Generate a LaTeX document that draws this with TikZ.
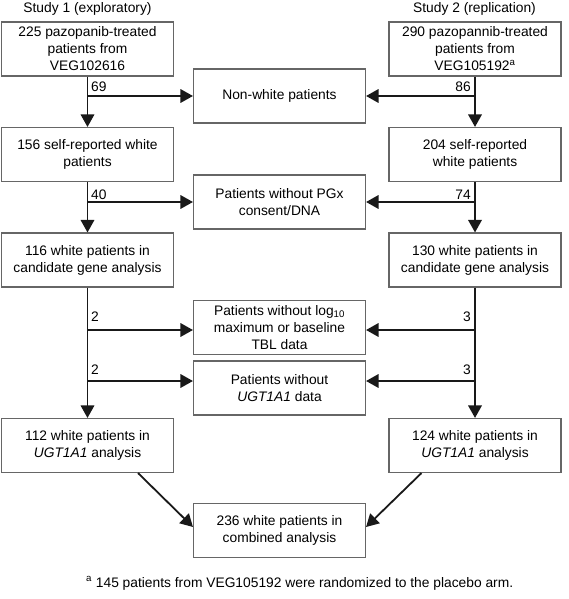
\documentclass[tikz,border=0pt]{standalone}
\usepackage{fontspec}
\setmainfont{Liberation Sans}
\usetikzlibrary{arrows.meta,calc}

\begin{document}
\begin{tikzpicture}[x=1pt,y=-1pt,
    txt/.style={font=\fontsize{13.8}{17}\selectfont,inner sep=0pt},
    box/.style={txt,draw=black!60,line width=1.1pt,align=center,minimum width=172pt,minimum height=54pt},
    flow/.style={line width=1.8pt,draw=black!90,-{Triangle[length=12.5pt,width=13.5pt]}}]
    \useasboundingbox (0,0) rectangle (568,599);
    % study 1 column
    \node[txt,anchor=base] (t1) at (87.5,12.5) {Study 1 (exploratory)};
    \node[box] (s1a) at (87.5,49) {225 pazopanib-treated\\patients from\\VEG102616};
    \node[box] (s1b) at (87.5,154.5) {156 self-reported white\\patients};
    \node[box] (s1c) at (87.5,260) {116 white patients in\\candidate gene analysis};
    \node[box] (s1d) at (87.5,445.5) {112 white patients in\\\textit{UGT1A1} analysis};
    % study 2 column
    \node[txt,anchor=base] (t2) at (474.5,12.5) {Study 2 (replication)};
    \node[box] (s2a) at (475,49) {290 pazopannib-treated\\patients from\\VEG105192\textsuperscript{a}};
    \node[box] (s2b) at (475,154.5) {204 self-reported\\white patients};
    \node[box] (s2c) at (475,260) {130 white patients in\\candidate gene analysis};
    \node[box] (s2d) at (475,445.5) {124 white patients in\\\textit{UGT1A1} analysis};
    % excluded patients
    \node[box] (c1) at (279.5,96) {Non-white patients};
    \node[box] (c2) at (279.5,202) {Patients without PGx\\consent/DNA};
    \node[box] (c3) at (279.5,327.5) {Patients without log\textsubscript{10}\\maximum or baseline\\TBL data};
    \node[box] (c4) at (279.5,388) {Patients without\\\textit{UGT1A1} data};
    \node[box] (c5) at (279.5,530.5) {236 white patients in\\combined analysis};
    % branch points
    \coordinate (b1) at (s1a.south |- c1.west);
    \coordinate (b2) at (s1b.south |- c2.west);
    \coordinate (b3) at ($(s1c.south |- c3.west)+(0,2.5)$);
    \coordinate (b4) at ($(s1c.south |- c4.west)+(0,-7)$);
    \coordinate (r1) at (s2a.south |- c1.east);
    \coordinate (r2) at (s2b.south |- c2.east);
    \coordinate (r3) at ($(s2c.south |- c3.east)+(0,2.5)$);
    \coordinate (r4) at ($(s2c.south |- c4.east)+(0,-7)$);
    \draw[flow] (s1a.south) -- (s1b.north);
    \draw[flow] (s1b.south) -- (s1c.north);
    \draw[flow] (s1c.south) -- (s1d.north);
    \draw[flow] (s2a.south) -- (s2b.north);
    \draw[flow] (s2b.south) -- (s2c.north);
    \draw[flow] (s2c.south) -- (s2d.north);
    \draw[flow] (b1) -- (c1.west);
    \draw[flow] (b2) -- (c2.west);
    \draw[flow] (b3) -- (b3 -| c3.west);
    \draw[flow] (b4) -- (b4 -| c4.west);
    \draw[flow] (r1) -- (c1.east);
    \draw[flow] (r2) -- (c2.east);
    \draw[flow] (r3) -- (r3 -| c3.east);
    \draw[flow] (r4) -- (r4 -| c4.east);
    \draw[flow] ([xshift=-36pt]s1d.south east) -- ([yshift=3.5pt]c5.west);
    \draw[flow] ([xshift=33pt]s2d.south west) -- ([yshift=3.5pt]c5.east);
    % counts
    \node[txt,anchor=base west] (n69) at ([shift={(3.5pt,4pt)}]b1) {69};
    \node[txt,anchor=base west] (n40) at ([shift={(3.5pt,3pt)}]b2) {40};
    \node[txt,anchor=base west] (n2a) at ([shift={(3.5pt,9pt)}]b3) {2};
    \node[txt,anchor=base west] (n2b) at ([shift={(3.5pt,7pt)}]b4) {2};
    \node[txt,anchor=base east] (n86) at ([shift={(-4pt,4pt)}]r1) {86};
    \node[txt,anchor=base east] (n74) at ([shift={(-4pt,3pt)}]r2) {74};
    \node[txt,anchor=base east] (n3a) at ([shift={(-4pt,9pt)}]r3) {3};
    \node[txt,anchor=base east] (n3b) at ([shift={(-4pt,7pt)}]r4) {3};
    % footnote
    \node[txt,anchor=base west] (fn) at (86,587) {\textsuperscript{a} 145 patients from VEG105192 were randomized to the placebo arm.};
\end{tikzpicture}
\end{document}
